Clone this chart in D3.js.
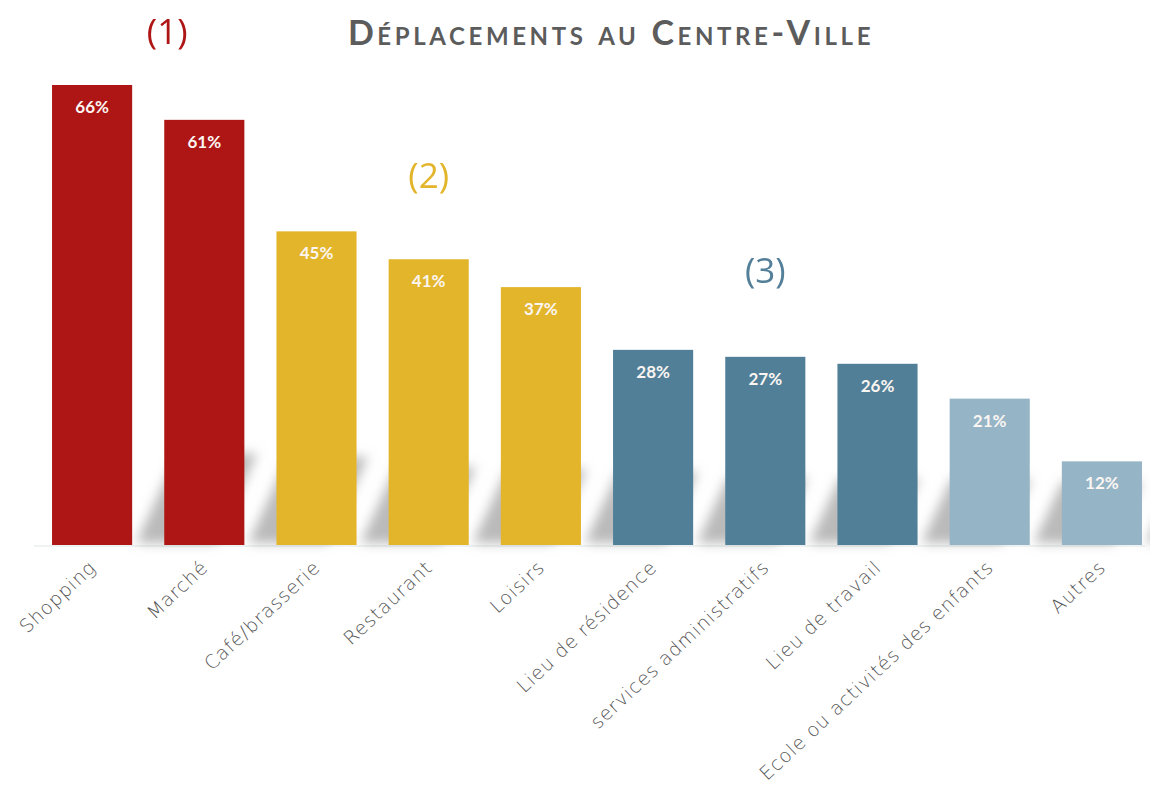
<!DOCTYPE html>
<html>
<head>
<meta charset="utf-8">
<script src="https://cdn.jsdelivr.net/npm/d3@7"></script>
<style>
  body { margin: 0; background: #fff; }
  svg { display: block; }
</style>
</head>
<body>
<svg></svg>
<script>
let categories = ["Shopping", "Marché", "Café/brasserie", "Restaurant", "Loisirs",
    "Lieu de résidence", "services administratifs", "Lieu de travail",
    "Ecole ou activités des enfants", "Autres"];
let values = [66, 61, 45, 41, 37, 28, 27, 26, 21, 12];
let groups = [1, 1, 2, 2, 2, 3, 3, 3, 4, 4];
let groupLabels = ["(1)", "(2)", "(3)"];
let groupAnchor = ["Shopping", "Restaurant", "services administratifs"];

let colors = { 1: "#AE1515", 2: "#E3B52B", 3: "#527F98", 4: "#95B4C6" };
let labelColors = ["#AE1515", "#E3B52B", "#527F98"];

let w = 1150;
let h = 803;
let base = 545;

let svg = d3.select('svg')
    .attr('width', w)
    .attr('height', h);

let defs = svg.append('defs');
defs.append('filter')
    .attr('id', 'blur')
    .attr('x', '-50%').attr('y', '-50%')
    .attr('width', '200%').attr('height', '200%')
    .append('feGaussianBlur')
    .attr('stdDeviation', 6);
defs.append('filter')
    .attr('id', 'soft')
    .append('feGaussianBlur')
    .attr('stdDeviation', 0.4);

let xScale = d3.scaleBand()
    .domain(categories)
    .range([36, 1158])
    .paddingInner(0.286)
    .paddingOuter(0.143);

let yScale = d3.scaleLinear()
    .domain([0, 66])
    .range([base, 85]);

// title
svg.append('text')
    .attr('x', 611)
    .attr('y', 45)
    .attr('text-anchor', 'middle')
    .attr('font-family', 'Lato, "Open Sans", sans-serif')
    .attr('font-weight', 700)
    .attr('font-size', 34)
    .style('font-variant', 'small-caps')
    .attr('letter-spacing', 3.6)
    .attr('fill', '#5c5c5c')
    .text('Déplacements au Centre-Ville');

// faint baseline
svg.append('line')
    .attr('x1', 34).attr('x2', 1145)
    .attr('y1', base + 1).attr('y2', base + 1)
    .attr('stroke', '#eef2f2')
    .attr('stroke-width', 2);

// diagonal shadows behind the bars
let bw = xScale.bandwidth();
svg.append('g')
    .attr('filter', 'url(#blur)')
    .selectAll('path')
    .data(categories)
    .enter()
    .append('path')
    .attr('d', (c, i) => {
        let x1 = xScale(c) + bw + 4;
        let sh = 50 + (yScale(0) - yScale(values[i])) * 0.09;
        let sk = sh * 0.45;
        return 'M' + x1 + ',' + (base - 2) +
            'L' + (x1 + sk) + ',' + (base - sh) +
            'L' + (x1 + sk + 80) + ',' + (base - sh) +
            'L' + (x1 + 80) + ',' + (base - 2) + 'Z';
    })
    .attr('fill', '#a3a3a3')
    .attr('opacity', 0.75);

// bars
svg.selectAll('rect.bar')
    .data(categories)
    .enter()
    .append('rect')
    .attr('class', 'bar')
    .attr('x', c => xScale(c))
    .attr('width', bw)
    .attr('y', (c, i) => yScale(values[i]))
    .attr('height', (c, i) => yScale(0) - yScale(values[i]))
    .attr('fill', (c, i) => colors[groups[i]]);

// value labels
svg.selectAll('text.val')
    .data(categories)
    .enter()
    .append('text')
    .attr('class', 'val')
    .attr('x', c => xScale(c) + bw / 2)
    .attr('y', (c, i) => yScale(values[i]) + 28)
    .attr('text-anchor', 'middle')
    .attr('font-family', 'Lato, sans-serif')
    .attr('font-weight', 700)
    .attr('font-size', 17)
    .attr('fill', '#fbf6f2')
    .text((c, i) => values[i] + '%');

// category labels
svg.selectAll('text.cat')
    .data(categories)
    .enter()
    .append('text')
    .attr('class', 'cat')
    .attr('transform', c => 'translate(' + (xScale(c) + bw / 2 + 5) + ',' + (base + 24) + ') rotate(-43)')
    .attr('text-anchor', 'end')
    .attr('font-family', '"DejaVu Sans", sans-serif')
    .attr('font-weight', 200)
    .attr('font-size', 19)
    .attr('letter-spacing', 0.9)
    .attr('fill', '#555')
    .text(c => c);

// group annotations
svg.selectAll('text.grp')
    .data(groupLabels)
    .enter()
    .append('text')
    .attr('class', 'grp')
    .attr('x', (g, i) => xScale(groupAnchor[i]) + bw + (i === 0 ? 35 : 0) - (i === 0 ? 0 : bw / 2))
    .attr('y', (g, i) => [44, 188, 283][i])
    .attr('text-anchor', 'middle')
    .attr('font-family', '"Open Sans", sans-serif')
    .attr('font-weight', 400)
    .attr('font-size', 35)
    .attr('fill', (g, i) => labelColors[i])
    .attr('filter', 'url(#soft)')
    .text(g => g);
</script>
</body>
</html>
